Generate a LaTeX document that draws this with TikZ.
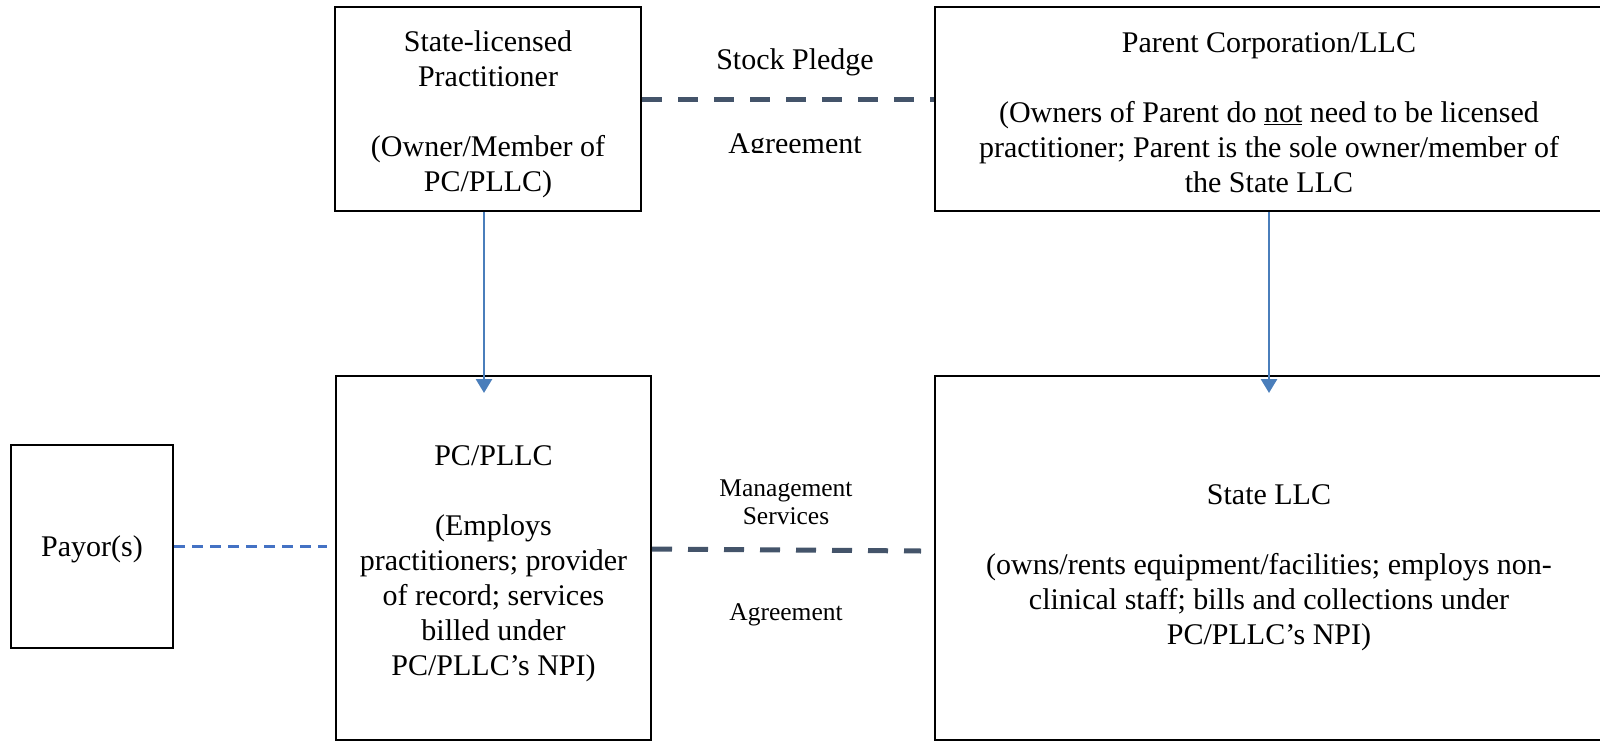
\documentclass[tikz,border=0pt]{standalone}
\usepackage{fontspec}
\setmainfont{Liberation Serif}
\usetikzlibrary{arrows.meta}
\definecolor{linkblue}{HTML}{4A7EBB}
\definecolor{pledgeslate}{HTML}{44546A}
\definecolor{payblue}{HTML}{4472C4}
% pushes a centred text block down by #1
\newcommand{\pushdown}[1]{\rule{0pt}{\dimexpr 20.6pt+2\dimexpr #1\relax\relax}}
\begin{document}
\begin{tikzpicture}[x=1pt,y=-1pt,
  entity/.style={draw, line width=2pt, align=center, inner sep=0pt, font=\fontsize{30}{35}\selectfont},
  owns/.style={draw=linkblue, line width=2.8pt, -{Triangle[width=16pt,length=14pt]}},
  pact/.style={draw=pledgeslate, line width=5pt, dash pattern=on 20pt off 16pt},
  paid/.style={draw=payblue, line width=3pt, dash pattern=on 11pt off 7pt},
  biglabel/.style={font=\fontsize{30}{35}\selectfont},
  smalllabel/.style={align=center, font=\fontsize{25.5}{28}\selectfont}]
\useasboundingbox (0,0) rectangle (1600,741);
% top row
\node[entity, minimum width=306pt, minimum height=204pt] (prac) at (488,109)
  {\pushdown{5pt}State-licensed\\Practitioner\\[35pt](Owner/Member of\\PC/PLLC)};
\node[entity, minimum width=668pt, minimum height=204pt] (parent) at (1269,109)
  {\pushdown{3pt}Parent Corporation/LLC\\[35pt](Owners of Parent do \underline{not} need to be licensed\\practitioner; Parent is the sole owner/member of\\the State LLC};
% bottom row
\node[entity, minimum width=315pt, minimum height=364pt] (pc) at (493.5,558)
  {\pushdown{5pt}PC/PLLC\\[35pt](Employs\\practitioners; provider\\of record; services\\billed under\\PC/PLLC’s NPI)};
\node[entity, minimum width=668pt, minimum height=364pt] (sll) at (1269,558)
  {\pushdown{9pt}State LLC\\[35pt](owns/rents equipment/facilities; employs non-\\clinical staff; bills and collections under\\PC/PLLC’s NPI)};
\node[entity, minimum width=162pt, minimum height=203pt] (payor) at (92,546.5) {\pushdown{3pt}Payor(s)};
% ownership arrows
\coordinate (pctip) at (484,393);
\coordinate (slltip) at (1269,393);
\draw[owns] (prac.south -| pctip) -- (pctip);
\draw[owns] (parent.south -| slltip) -- (slltip);
% agreements
\draw[pact] ([yshift=9pt]prac.east) -- ([yshift=9pt]parent.west);
\node[biglabel] (sptop) at (795,62) {Stock Pledge};
\begin{scope}
  \clip (650,120) rectangle (930,152);
  \node[biglabel] (spbot) at (795,147) {Agreement};
\end{scope}
\draw[pact] ([yshift=9pt]pc.east) -- ([xshift=-13pt,yshift=7pt]sll.west);
\node[smalllabel] (mstop) at (786,502) {Management\\Services};
\node[smalllabel] (msbot) at (786,615) {Agreement};
\draw[paid] (payor.east) -- ([xshift=-8pt]pc.west |- payor.east);
\end{tikzpicture}
\end{document}
